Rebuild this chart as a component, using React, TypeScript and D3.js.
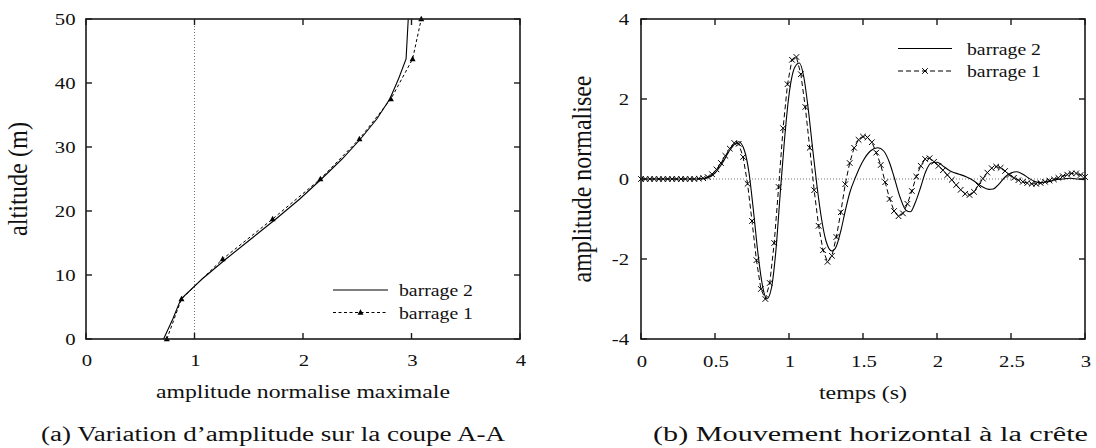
import React from "react";
import * as d3 from "d3";

// ---------- Left chart (a): amplitude vs altitude ----------
const leftAltitudes1 = [0, 6.25, 12.5, 18.75, 25, 31.25, 37.5, 43.75, 50];
const leftAmplitude1 = [0.745, 0.88, 1.26, 1.72, 2.16, 2.52, 2.81, 3.01, 3.09];

const leftAltitudes2 = [0, 3.125, 6.25, 9.375, 12.5, 15.625, 18.75, 21.875, 25, 28.125, 31.25, 34.375, 37.5, 40.625, 43.75, 46.875, 50];
const leftAmplitude2 = [0.715, 0.8, 0.875, 1.07, 1.29, 1.52, 1.75, 1.97, 2.17, 2.36, 2.53, 2.68, 2.8, 2.88, 2.95, 2.96, 2.97];

const leftXTicks = [0, 1, 2, 3, 4];
const leftYTicks = [0, 10, 20, 30, 40, 50];

// ---------- Right chart (b): horizontal motion at crest ----------
const rightTimes1 = [
  0, 0.03, 0.06, 0.09, 0.12, 0.15, 0.18, 0.21, 0.24, 0.27,
  0.3, 0.33, 0.36, 0.39, 0.42, 0.45, 0.48, 0.51, 0.54, 0.57,
  0.6, 0.63, 0.66, 0.69, 0.72, 0.75, 0.78, 0.81, 0.84, 0.87,
  0.9, 0.93, 0.96, 0.99, 1.02, 1.05, 1.08, 1.11, 1.14, 1.17,
  1.2, 1.23, 1.26, 1.29, 1.32, 1.35, 1.38, 1.41, 1.44, 1.47,
  1.5, 1.53, 1.56, 1.59, 1.62, 1.65, 1.68, 1.71, 1.74, 1.77,
  1.8, 1.83, 1.86, 1.89, 1.92, 1.95, 1.98, 2.01, 2.04, 2.07,
  2.1, 2.13, 2.16, 2.19, 2.22, 2.25, 2.28, 2.31, 2.34, 2.37,
  2.4, 2.43, 2.46, 2.49, 2.52, 2.55, 2.58, 2.61, 2.64, 2.67,
  2.7, 2.73, 2.76, 2.79, 2.82, 2.85, 2.88, 2.91, 2.94, 2.97, 3.0,
];
const rightValues1 = [
  0, 0, 0, 0, 0, 0, 0, 0, 0, 0,
  0, 0, 0, 0.01, 0.02, 0.05, 0.12, 0.24, 0.4, 0.58,
  0.76, 0.9, 0.88, 0.55, -0.12, -1.05, -2.03, -2.75, -3.0, -2.6,
  -1.6, -0.2, 1.27, 2.37, 2.98, 3.05, 2.62, 1.8, 0.78, -0.28,
  -1.17, -1.78, -2.07, -1.92, -1.45, -0.83, -0.13, 0.4, 0.78, 0.98,
  1.06, 1.04, 0.92, 0.66, 0.35, -0.08, -0.5, -0.8, -0.93, -0.86,
  -0.62, -0.3, 0.06, 0.33, 0.5, 0.52, 0.43, 0.33, 0.22, 0.1,
  -0.02, -0.15, -0.27, -0.37, -0.4, -0.32, -0.16, 0.01, 0.16, 0.27,
  0.31, 0.28, 0.2, 0.1, 0.03, -0.03, -0.07, -0.1, -0.12, -0.12,
  -0.1, -0.07, -0.04, -0.01, 0.03, 0.07, 0.11, 0.14, 0.14, 0.1, 0.05,
];

const rightTimes2 = [
  0, 0.4, 0.45, 0.5, 0.55, 0.6, 0.66, 0.7, 0.73, 0.76, 0.79, 0.82, 0.85, 0.88, 0.91, 0.94, 0.97,
  1.0, 1.04, 1.07, 1.1, 1.13, 1.16, 1.19, 1.22, 1.25, 1.29, 1.32, 1.35, 1.38, 1.41, 1.45,
  1.5, 1.55, 1.6, 1.64, 1.68, 1.71, 1.75, 1.79, 1.82, 1.85, 1.89, 1.92, 1.96,
  2.0, 2.05, 2.1, 2.15, 2.2, 2.25, 2.3, 2.35, 2.38, 2.42, 2.46, 2.5, 2.54, 2.58, 2.62, 2.66, 2.7, 2.75,
  2.8, 2.85, 2.9, 2.95, 3.0,
];
const rightValues2 = [
  0, 0, 0.03, 0.15, 0.4, 0.72, 0.93, 0.7, 0.15, -0.8, -1.85, -2.65, -3.0, -2.75, -1.85, -0.4, 1.0,
  2.1, 2.8, 2.9, 2.55, 1.75, 0.75, -0.2, -1.0, -1.55, -1.8, -1.68, -1.3, -0.8, -0.35, 0.05,
  0.45, 0.7, 0.78, 0.7, 0.4, 0.05, -0.45, -0.78, -0.82, -0.62, -0.2, 0.15, 0.4,
  0.42, 0.3, 0.18, 0.12, 0.05, -0.05, -0.18, -0.26, -0.25, -0.12, 0.05, 0.15, 0.18, 0.12, 0.02, -0.06, -0.09, -0.07,
  -0.02, 0.0, 0.02, 0.0, -0.02,
];

const rightXTicks = [0, 0.5, 1, 1.5, 2, 2.5, 3];
const rightXTickLabels = ["0", "0.5", "1", "1.5", "2", "2.5", "3"];
const rightYTicks = [-4, -2, 0, 2, 4];

const seriesNames = ["barrage 2", "barrage 1"];

const FONT = "Liberation Serif, Times New Roman, serif";
const TICK_SIZE = 17;
const TICK_SX = 1.22;

function SText({ x, y, anchor = "middle", size = TICK_SIZE, sx = TICK_SX, children }: any) {
  return (
    <text
      transform={`translate(${x},${y}) scale(${sx},1)`}
      textAnchor={anchor}
      fontSize={size}
      fontFamily={FONT}
      fill="#111"
    >
      {children}
    </text>
  );
}

function Frame({ x0, x1, y0, y1, xTicks, yTicks, xs, ys }: any) {
  const L = 6;
  return (
    <g stroke="#1a1a1a" strokeWidth={1.4} fill="none">
      {xTicks.map((t: number, i: number) => (
        <g key={"xt" + i}>
          <line x1={xs(t)} x2={xs(t)} y1={y0} y2={y0 - L} />
          <line x1={xs(t)} x2={xs(t)} y1={y1} y2={y1 + L} />
        </g>
      ))}
      {yTicks.map((t: number, i: number) => (
        <g key={"yt" + i}>
          <line x1={x0} x2={x0 + L} y1={ys(t)} y2={ys(t)} />
          <line x1={x1} x2={x1 - L} y1={ys(t)} y2={ys(t)} />
        </g>
      ))}
      <rect x={x0} y={y1} width={x1 - x0} height={y0 - y1} strokeWidth={1.6} />
    </g>
  );
}

const triPath = "M0,-3.2L3,2.2L-3,2.2Z";
const crossPath = "M-2.8,-2.8L2.8,2.8M-2.8,2.8L2.8,-2.8";

export default function App() {
  // scales
  const xL = d3.scaleLinear().domain([0, 4]).range([86, 520]);
  const yL = d3.scaleLinear().domain([0, 50]).range([339, 19]);
  const xR = d3.scaleLinear().domain([0, 3]).range([641, 1085]);
  const yR = d3.scaleLinear().domain([-4, 4]).range([339, 19]);

  const left2 = leftAltitudes2.map((a, i) => [xL(leftAmplitude2[i]), yL(a)] as [number, number]);
  const left1 = leftAltitudes1.map((a, i) => [xL(leftAmplitude1[i]), yL(a)] as [number, number]);
  const lineGen = d3.line();

  const right1 = rightTimes1.map((t, i) => [xR(t), yR(rightValues1[i])] as [number, number]);
  const right2 = rightTimes2.map((t, i) => [xR(t), yR(rightValues2[i])] as [number, number]);
  const smooth = d3.line().curve(d3.curveMonotoneX);

  const legL = { x0: 333, x1: 388, tx: 399, y: [290, 312.5] };
  const legR = { x0: 898, x1: 952, tx: 967, y: [48.5, 71] };

  return (
    <svg
      width={1096}
      height={448}
      style={{ position: "absolute", left: 0, top: 0, background: "#fff" }}
    >
      <rect x={0} y={0} width={1096} height={448} fill="#fff" />

      {/* ---------------- Left chart ---------------- */}
      <line x1={xL(1)} x2={xL(1)} y1={yL(0)} y2={yL(50)} stroke="#666" strokeWidth={0.9} strokeDasharray="1,2" />
      <path d={lineGen(left2) || ""} fill="none" stroke="#000" strokeWidth={1.1} />
      <path d={lineGen(left1) || ""} fill="none" stroke="#000" strokeWidth={1} strokeDasharray="3,2.5" />
      {left1.map((p, i) => (
        <path key={"tri" + i} d={triPath} transform={`translate(${p[0]},${p[1]})`} fill="#000" />
      ))}
      <Frame x0={86} x1={520} y0={339} y1={19} xTicks={leftXTicks} yTicks={leftYTicks} xs={xL} ys={yL} />
      {leftXTicks.map((t, i) => (
        <SText key={"lx" + i} x={xL(t) + 1} y={366}>{String(t)}</SText>
      ))}
      {leftYTicks.map((t, i) => (
        <SText key={"ly" + i} x={75.5} y={yL(t) + 6} anchor="end">{String(t)}</SText>
      ))}
      <text x={303} y={398} textAnchor="middle" fontSize={19} fontFamily={FONT} textLength={294} lengthAdjust="spacingAndGlyphs" fill="#111">
        amplitude normalise maximale
      </text>
      <text
        transform={`translate(27,179) scale(1.28,1) rotate(-90)`}
        textAnchor="middle"
        fontSize={21}
        fontFamily={FONT}
        textLength={114}
        lengthAdjust="spacingAndGlyphs"
        fill="#111"
      >
        altitude (m)
      </text>
      {/* left legend */}
      <line x1={legL.x0} x2={legL.x1} y1={legL.y[0]} y2={legL.y[0]} stroke="#000" strokeWidth={1.1} />
      <line x1={legL.x0} x2={legL.x1} y1={legL.y[1]} y2={legL.y[1]} stroke="#000" strokeWidth={1} strokeDasharray="3,2.5" />
      <path d={triPath} transform={`translate(${(legL.x0 + legL.x1) / 2},${legL.y[1]})`} fill="#000" />
      {seriesNames.map((s, i) => (
        <text key={"ll" + i} x={legL.tx} y={legL.y[i] + 6} fontSize={17} fontFamily={FONT} textLength={74} lengthAdjust="spacingAndGlyphs" fill="#111">
          {s}
        </text>
      ))}

      {/* ---------------- Right chart ---------------- */}
      <line x1={xR(0)} x2={xR(3)} y1={yR(0)} y2={yR(0)} stroke="#666" strokeWidth={0.9} strokeDasharray="1,2" />
      <path d={smooth(right2) || ""} fill="none" stroke="#000" strokeWidth={1.1} />
      <path d={lineGen(right1) || ""} fill="none" stroke="#000" strokeWidth={1} strokeDasharray="5,3" />
      {right1.map((p, i) => (
        <path key={"x" + i} d={crossPath} transform={`translate(${p[0]},${p[1]})`} stroke="#000" strokeWidth={1} fill="none" />
      ))}
      <Frame x0={641} x1={1085} y0={339} y1={19} xTicks={rightXTicks} yTicks={rightYTicks} xs={xR} ys={yR} />
      {rightXTicks.map((t, i) => (
        <SText key={"rx" + i} x={xR(t) + 1} y={367}>{rightXTickLabels[i]}</SText>
      ))}
      {rightYTicks.map((t, i) => (
        <SText key={"ry" + i} x={629} y={yR(t) + 6} anchor="end">{String(t)}</SText>
      ))}
      <text x={863} y={399} textAnchor="middle" fontSize={19} fontFamily={FONT} textLength={88} lengthAdjust="spacingAndGlyphs" fill="#111">
        temps (s)
      </text>
      <text
        transform={`translate(591,179) scale(1.28,1) rotate(-90)`}
        textAnchor="middle"
        fontSize={21}
        fontFamily={FONT}
        textLength={207}
        lengthAdjust="spacingAndGlyphs"
        fill="#111"
      >
        amplitude normalisee
      </text>
      {/* right legend */}
      <line x1={legR.x0} x2={legR.x1} y1={legR.y[0]} y2={legR.y[0]} stroke="#000" strokeWidth={1.1} />
      <line x1={legR.x0} x2={legR.x1} y1={legR.y[1]} y2={legR.y[1]} stroke="#000" strokeWidth={1} strokeDasharray="5,3" />
      <path d={crossPath} transform={`translate(${(legR.x0 + legR.x1) / 2},${legR.y[1]})`} stroke="#000" strokeWidth={1} fill="none" />
      {seriesNames.map((s, i) => (
        <text key={"rl" + i} x={legR.tx} y={legR.y[i] + 6} fontSize={17} fontFamily={FONT} textLength={74} lengthAdjust="spacingAndGlyphs" fill="#111">
          {s}
        </text>
      ))}

      {/* ---------------- Captions ---------------- */}
      <text x={41} y={441} fontSize={20} fontFamily={FONT} textLength={464} lengthAdjust="spacingAndGlyphs" fill="#111">
        (a) Variation d’amplitude sur la coupe A-A
      </text>
      <text x={653} y={441} fontSize={20} fontFamily={FONT} textLength={435} lengthAdjust="spacingAndGlyphs" fill="#111">
        (b) Mouvement horizontal à la crête
      </text>
    </svg>
  );
}
